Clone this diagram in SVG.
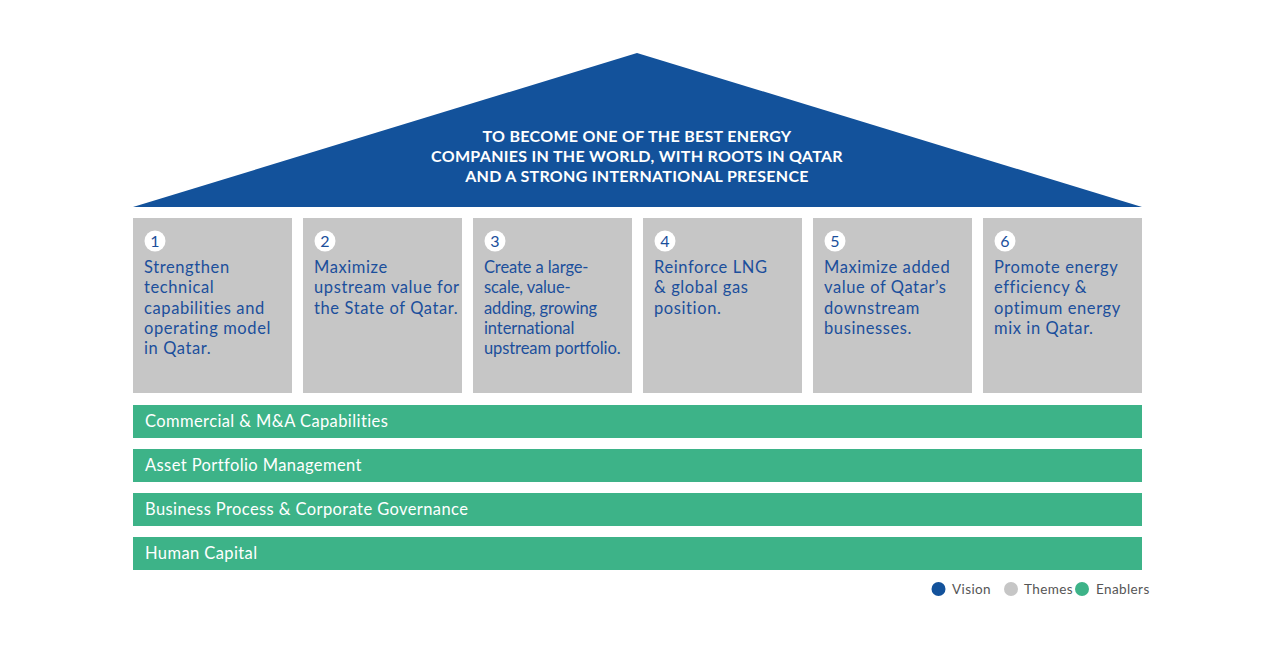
<svg xmlns="http://www.w3.org/2000/svg" width="1274" height="650" viewBox="0 0 1274 650">
<style>
.theme{fill:#c6c6c6}
.enabler{fill:#3db388}
.num-c{fill:#ffffff}
.num{font-family:Lato,"Noto Sans",sans-serif;font-size:16px;fill:#1b4f9c;text-anchor:middle}
.tt{font-family:Lato,"Noto Sans",sans-serif;font-size:16.5px;fill:#1b4f9c;letter-spacing:0.6px}
.tt.cond{letter-spacing:-0.1px}
.bt{font-family:Lato,"Noto Sans",sans-serif;font-size:16.5px;fill:#ffffff;letter-spacing:0.4px}
.vt{font-family:Lato,"Noto Sans",sans-serif;font-size:16px;font-weight:bold;fill:#ffffff;text-anchor:middle;letter-spacing:0.3px}
.lg{font-family:Lato,"Noto Sans",sans-serif;font-size:13.5px;fill:#555555;letter-spacing:0.4px}
</style>
<rect width="1274" height="650" fill="#ffffff"/>
<g id="vision">
<polygon points="133,207 637,53 1142,207" fill="#13529b"/>
<text class="vt" x="637" y="142">TO BECOME ONE OF THE BEST ENERGY</text>
<text class="vt" x="637" y="162">COMPANIES IN THE WORLD, WITH ROOTS IN QATAR</text>
<text class="vt" x="637" y="182">AND A STRONG INTERNATIONAL PRESENCE</text>
</g>
<g id="theme1">
<rect class="theme" x="133" y="218" width="159" height="175"/>
<circle class="num-c" cx="155" cy="241" r="10.5"/>
<text class="num" x="155" y="246.5">1</text>
<text class="tt" x="144"><tspan x="144" y="273">Strengthen</tspan><tspan x="144" y="293">technical</tspan><tspan x="144" y="313.5">capabilities and</tspan><tspan x="144" y="334">operating model</tspan><tspan x="144" y="354">in Qatar.</tspan></text>
</g>
<g id="theme2">
<rect class="theme" x="303" y="218" width="159" height="175"/>
<circle class="num-c" cx="325" cy="241" r="10.5"/>
<text class="num" x="325" y="246.5">2</text>
<text class="tt" x="314"><tspan x="314" y="273">Maximize</tspan><tspan x="314" y="293">upstream value for</tspan><tspan x="314" y="313.5">the State of Qatar.</tspan></text>
</g>
<g id="theme3">
<rect class="theme" x="473" y="218" width="159" height="175"/>
<circle class="num-c" cx="495" cy="241" r="10.5"/>
<text class="num" x="495" y="246.5">3</text>
<text class="tt cond" x="484"><tspan x="484" y="273">Create a large-</tspan><tspan x="484" y="293">scale, value-</tspan><tspan x="484" y="313.5">adding, growing</tspan><tspan x="484" y="334">international</tspan><tspan x="484" y="354">upstream portfolio.</tspan></text>
</g>
<g id="theme4">
<rect class="theme" x="643" y="218" width="159" height="175"/>
<circle class="num-c" cx="665" cy="241" r="10.5"/>
<text class="num" x="665" y="246.5">4</text>
<text class="tt" x="654"><tspan x="654" y="273">Reinforce LNG</tspan><tspan x="654" y="293">&amp; global gas</tspan><tspan x="654" y="313.5">position.</tspan></text>
</g>
<g id="theme5">
<rect class="theme" x="813" y="218" width="159" height="175"/>
<circle class="num-c" cx="835" cy="241" r="10.5"/>
<text class="num" x="835" y="246.5">5</text>
<text class="tt" x="824"><tspan x="824" y="273">Maximize added</tspan><tspan x="824" y="293">value of Qatar’s</tspan><tspan x="824" y="313.5">downstream</tspan><tspan x="824" y="334">businesses.</tspan></text>
</g>
<g id="theme6">
<rect class="theme" x="983" y="218" width="159" height="175"/>
<circle class="num-c" cx="1005" cy="241" r="10.5"/>
<text class="num" x="1005" y="246.5">6</text>
<text class="tt" x="994"><tspan x="994" y="273">Promote energy</tspan><tspan x="994" y="293">efficiency &amp;</tspan><tspan x="994" y="313.5">optimum energy</tspan><tspan x="994" y="334">mix in Qatar.</tspan></text>
</g>
<g id="enabler1">
<rect class="enabler" x="133" y="405" width="1009" height="33"/>
<text class="bt" x="145" y="427">Commercial &amp; M&amp;A Capabilities</text>
</g>
<g id="enabler2">
<rect class="enabler" x="133" y="449" width="1009" height="33"/>
<text class="bt" x="145" y="471">Asset Portfolio Management</text>
</g>
<g id="enabler3">
<rect class="enabler" x="133" y="493" width="1009" height="33"/>
<text class="bt" x="145" y="515">Business Process &amp; Corporate Governance</text>
</g>
<g id="enabler4">
<rect class="enabler" x="133" y="537" width="1009" height="33"/>
<text class="bt" x="145" y="559">Human Capital</text>
</g>
<g id="legend">
<circle cx="938.5" cy="589" r="7" fill="#13529b"/>
<text class="lg" x="952" y="594">Vision</text>
<circle cx="1011" cy="589" r="7" fill="#c6c6c6"/>
<text class="lg" x="1024" y="594">Themes</text>
<circle cx="1082" cy="589" r="7" fill="#3db388"/>
<text class="lg" x="1096" y="594">Enablers</text>
</g>
<g id="connectors"></g>
</svg>
